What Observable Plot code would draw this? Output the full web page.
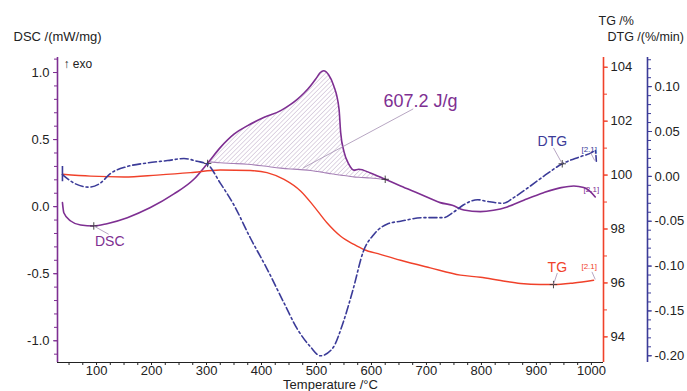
<!DOCTYPE html>
<html><head><meta charset="utf-8">
<script src="https://cdn.jsdelivr.net/npm/d3@7"></script>
<script src="https://cdn.jsdelivr.net/npm/@observablehq/plot@0.6"></script>
<style>
body{margin:0;background:#fff;}
#wrap{position:relative;width:687px;height:391px;}
#wrap svg{position:absolute;left:0;top:0;}
</style></head><body>
<svg width="0" height="0" style="position:absolute"><defs>
<pattern id="hatch" patternUnits="userSpaceOnUse" width="3.2" height="3.2" patternTransform="rotate(45)">
<line x1="0" y1="0" x2="0" y2="3.2" stroke="#a48cb2" stroke-width="0.7"/></pattern></defs></svg>
<div id="wrap"></div>
<script>
// ---- data ----
const dscT = [38, 40.5, 53, 71, 95, 119, 156, 198, 240, 277, 304, 325, 350, 374, 404, 435, 453, 465, 477, 489, 500, 507, 513, 522, 531, 541, 544, 550, 559, 568, 577, 598, 625, 653, 689, 725, 747, 768, 798, 822, 847, 877, 913, 945, 968, 986, 998, 1007];
const dscV = [0.030, -0.045, -0.107, -0.137, -0.144, -0.127, -0.082, -0.007, 0.093, 0.204, 0.334, 0.440, 0.540, 0.602, 0.664, 0.716, 0.762, 0.800, 0.845, 0.900, 0.960, 1.000, 1.013, 0.983, 0.905, 0.727, 0.552, 0.410, 0.315, 0.272, 0.279, 0.251, 0.204, 0.154, 0.093, 0.030, 0.010, -0.025, -0.037, -0.027, -0.002, 0.048, 0.104, 0.142, 0.154, 0.142, 0.112, 0.072];
const peakT = [304, 325, 350, 374, 404, 435, 453, 465, 477, 489, 500, 507, 513, 522, 531, 541, 544, 550, 559, 568, 577, 598, 625];
const peakBase = [0.334, 0.327, 0.322, 0.316, 0.303, 0.287, 0.281, 0.278, 0.274, 0.269, 0.263, 0.259, 0.255, 0.248, 0.243, 0.236, 0.235, 0.232, 0.227, 0.222, 0.219, 0.214, 0.204];
const tgT = [38, 89, 150, 210, 271, 325, 380, 410, 441, 471, 495, 519, 544, 568, 586, 616, 653, 707, 762, 798, 835, 871, 907, 931, 968, 1004];
const tgV = [100.03, 99.96, 99.93, 100.0, 100.09, 100.19, 100.17, 100.09, 99.84, 99.41, 98.85, 98.23, 97.73, 97.43, 97.24, 97.06, 96.84, 96.56, 96.29, 96.21, 96.09, 95.98, 95.94, 95.94, 96.00, 96.10];
const dtgT = [38, 59, 86, 107, 125, 156, 192, 229, 259, 283, 301, 325, 349, 380, 410, 440, 465, 489, 507, 529, 549, 567, 585, 604, 629, 653, 695, 731, 749, 767, 793, 811, 840, 858, 884, 913, 947, 980, 1002, 1007, 1009];
const dtgV = [0.002, -0.0075, -0.012, -0.0075, 0.003, 0.011, 0.0149, 0.0176, 0.0199, 0.0168, 0.0137, -0.0075, -0.031, -0.069, -0.103, -0.140, -0.170, -0.190, -0.200, -0.192, -0.162, -0.125, -0.084, -0.065, -0.053, -0.050, -0.046, -0.046, -0.040, -0.032, -0.026, -0.028, -0.030, -0.024, -0.013, 0.000, 0.014, 0.022, 0.027, 0.029, 0.017];
const dtgStart = [{T: 38, from: 0.011, to: -0.006}];
const xTicks = [100, 200, 300, 400, 500, 600, 700, 800, 900, 1000];
const dscTicks = [-1.0, -0.5, 0.0, 0.5, 1.0];
const tgTicks = [94, 96, 98, 100, 102, 104];
const dtgTicks = [-0.20, -0.15, -0.10, -0.05, 0.00, 0.05, 0.10];
const dscMarks = [{T: 95, v: -0.144}, {T: 302, v: 0.322}, {T: 625, v: 0.204}];
const tgMarks = [{T: 931, v: 95.94}];
const dtgMarks = [{T: 947, v: 0.014}];

// ---- styling ----
const PURPLE = "#7e2f92", RED = "#f0412a", BLUE = "#3b3b98", LEAD = "#a58fb2";
const FONT = "'Liberation Sans', Arial, sans-serif";
const crossSym = {draw(ctx, size) {const r = Math.sqrt(size) / 2; ctx.moveTo(-r, 0); ctx.lineTo(r, 0); ctx.moveTo(0, -r); ctx.lineTo(0, r);}};
const common = {
  width: 687, height: 391, marginTop: 57, marginBottom: 29, marginLeft: 57, marginRight: 84,
  style: {background: "transparent", fontFamily: FONT, fontSize: "13px", color: "#222", overflow: "visible"}
};
const xScale = {domain: [29, 1022]};
const dsc = dscT.map((T, i) => ({T, v: dscV[i]}));
const peak = peakT.map((T, i) => ({T, base: peakBase[i], v: dscV[dscT.indexOf(T)]}));
const tg = tgT.map((T, i) => ({T, v: tgV[i]}));
const dtg = dtgT.map((T, i) => ({T, v: dtgV[i]}));
const minorX = d3.range(50, 1001, 25).filter(t => t % 100 !== 0);
const minorDSC = d3.range(-11, 12).map(i => i / 10);
const minorTG = d3.range(94, 105);
const minorDTG = d3.range(-20, 14).map(i => i / 100);
const link = (o) => Plot.link([o], {x1: "x1", y1: "y1", x2: "x2", y2: "y2", stroke: LEAD, strokeWidth: 0.8});

const pDSC = Plot.plot({
  ...common, x: xScale, y: {domain: [-1.162, 1.112]},
  marks: [
    Plot.areaY(peak, {x: "T", y1: "base", y2: "v", fill: "url(#hatch)", curve: "monotone-x"}),
    Plot.line(peak, {x: "T", y: "base", stroke: "#a680b6", strokeWidth: 1.1, curve: "monotone-x"}),
    Plot.axisX(minorX, {tickSize: 3, tickFormat: () => "", stroke: "#222"}),
    Plot.axisX(xTicks, {tickSize: 3, tickPadding: 0, tickFormat: d => String(d), label: null, stroke: "#222", fill: "#222", fontSize: 13}),
    Plot.axisY(minorDSC, {tickSize: 3, tickFormat: () => "", stroke: PURPLE}),
    Plot.axisY(dscTicks, {tickSize: 4, tickPadding: 4, tickFormat: d => d.toFixed(1), label: null, stroke: PURPLE, fill: "#222", fontSize: 13}),
    Plot.ruleY([-1.162], {stroke: "#222", strokeWidth: 1.2}),
    Plot.ruleX([29], {stroke: PURPLE, strokeWidth: 1.6}),
    Plot.line(dsc, {x: "T", y: "v", stroke: PURPLE, strokeWidth: 1.6, curve: "monotone-x"}),
    Plot.dot(dscMarks, {x: "T", y: "v", symbol: crossSym, r: 4.2, stroke: "#333", strokeWidth: 0.9, fill: "none"}),
    link({x1: 95, y1: -0.144, x2: 122, y2: -0.206}),
    Plot.text(["DSC"], {x: [124], y: [-0.263], fill: PURPLE, fontSize: 14}),
    link({x1: 676, y1: 0.729, x2: 476, y2: 0.289}),
    Plot.text(["607.2 J/g"], {x: [622], y: [0.789], fill: PURPLE, fontSize: 18, textAnchor: "start"}),
    Plot.text(["[2.1]"], {x: [1000], y: [0.130], fill: PURPLE, fontSize: 8}),
    Plot.text(["DSC /(mW/mg)"], {frameAnchor: "top-left", dx: -44, dy: -21, lineAnchor: "middle", textAnchor: "start", fill: "#222", fontSize: 13}),
    Plot.text(["↑ exo"], {frameAnchor: "top-left", dx: 6, dy: 7, lineAnchor: "middle", textAnchor: "start", fill: "#222", fontSize: 12}),
    Plot.text(["Temperature /°C"], {frameAnchor: "bottom", dy: 22, lineAnchor: "middle", fill: "#222", fontSize: 13})
  ]
});

const pTG = Plot.plot({
  ...common, x: {...xScale, axis: null}, y: {domain: [93.05, 104.36]},
  marks: [
    Plot.axisY(minorTG, {anchor: "right", tickSize: 3, tickFormat: () => "", stroke: RED}),
    Plot.axisY(tgTicks, {anchor: "right", tickSize: 4, tickPadding: 3, tickFormat: d => String(d), label: null, stroke: RED, fill: "#222", fontSize: 13}),
    Plot.ruleX([1022], {stroke: RED, strokeWidth: 1.6}),
    Plot.line(tg, {x: "T", y: "v", stroke: RED, strokeWidth: 1.4, curve: "monotone-x"}),
    Plot.dot(tgMarks, {x: "T", y: "v", symbol: crossSym, r: 4.2, stroke: "#333", strokeWidth: 0.9, fill: "none"}),
    link({x1: 938, y1: 96.37, x2: 931, y2: 95.94}),
    Plot.text(["TG"], {x: [938], y: [96.58], fill: RED, fontSize: 14}),
    link({x1: 1001, y1: 96.41, x2: 1007, y2: 96.13}),
    Plot.text(["[2.1]"], {x: [996], y: [96.62], fill: RED, fontSize: 8}),
    Plot.text(["TG /%"], {frameAnchor: "top-right", dx: -5, dy: -37, lineAnchor: "middle", textAnchor: "start", fill: "#222", fontSize: 12.5})
  ]
});

const pDTG = Plot.plot({
  ...common, x: {...xScale, axis: null}, y: {domain: [-0.2075, 0.1325]},
  marks: [
    Plot.axisY(minorDTG, {anchor: "right", dx: 44, tickSize: 3, tickFormat: () => "", stroke: BLUE}),
    Plot.axisY(dtgTicks, {anchor: "right", dx: 44, tickSize: 4, tickPadding: 3, tickFormat: d => d.toFixed(2), label: null, stroke: BLUE, fill: "#222", fontSize: 13}),
    Plot.ruleX([1022], {dx: 44, stroke: BLUE, strokeWidth: 1.6}),
    Plot.line(dtg, {x: "T", y: "v", stroke: BLUE, strokeWidth: 1.6, strokeDasharray: "8,3,2,3", curve: "monotone-x"}),
    Plot.ruleX(dtgStart, {x: "T", y1: "from", y2: "to", stroke: BLUE, strokeWidth: 1.6}),
    Plot.dot(dtgMarks, {x: "T", y: "v", symbol: crossSym, r: 4.2, stroke: "#333", strokeWidth: 0.9, fill: "none"}),
    link({x1: 931, y1: 0.0317, x2: 947, y2: 0.014}),
    Plot.text(["DTG"], {x: [929], y: [0.039], fill: BLUE, fontSize: 14}),
    link({x1: 999, y1: 0.026, x2: 1006, y2: 0.0176}),
    Plot.text(["[2.1]"], {x: [996], y: [0.0305], fill: BLUE, fontSize: 8}),
    Plot.text(["DTG /(%/min)"], {frameAnchor: "top-right", dx: 4, dy: -21, lineAnchor: "middle", textAnchor: "start", fill: "#222", fontSize: 12.5})
  ]
});

const wrap = document.getElementById("wrap");
wrap.append(pDSC, pTG, pDTG);
</script>
</body></html>
